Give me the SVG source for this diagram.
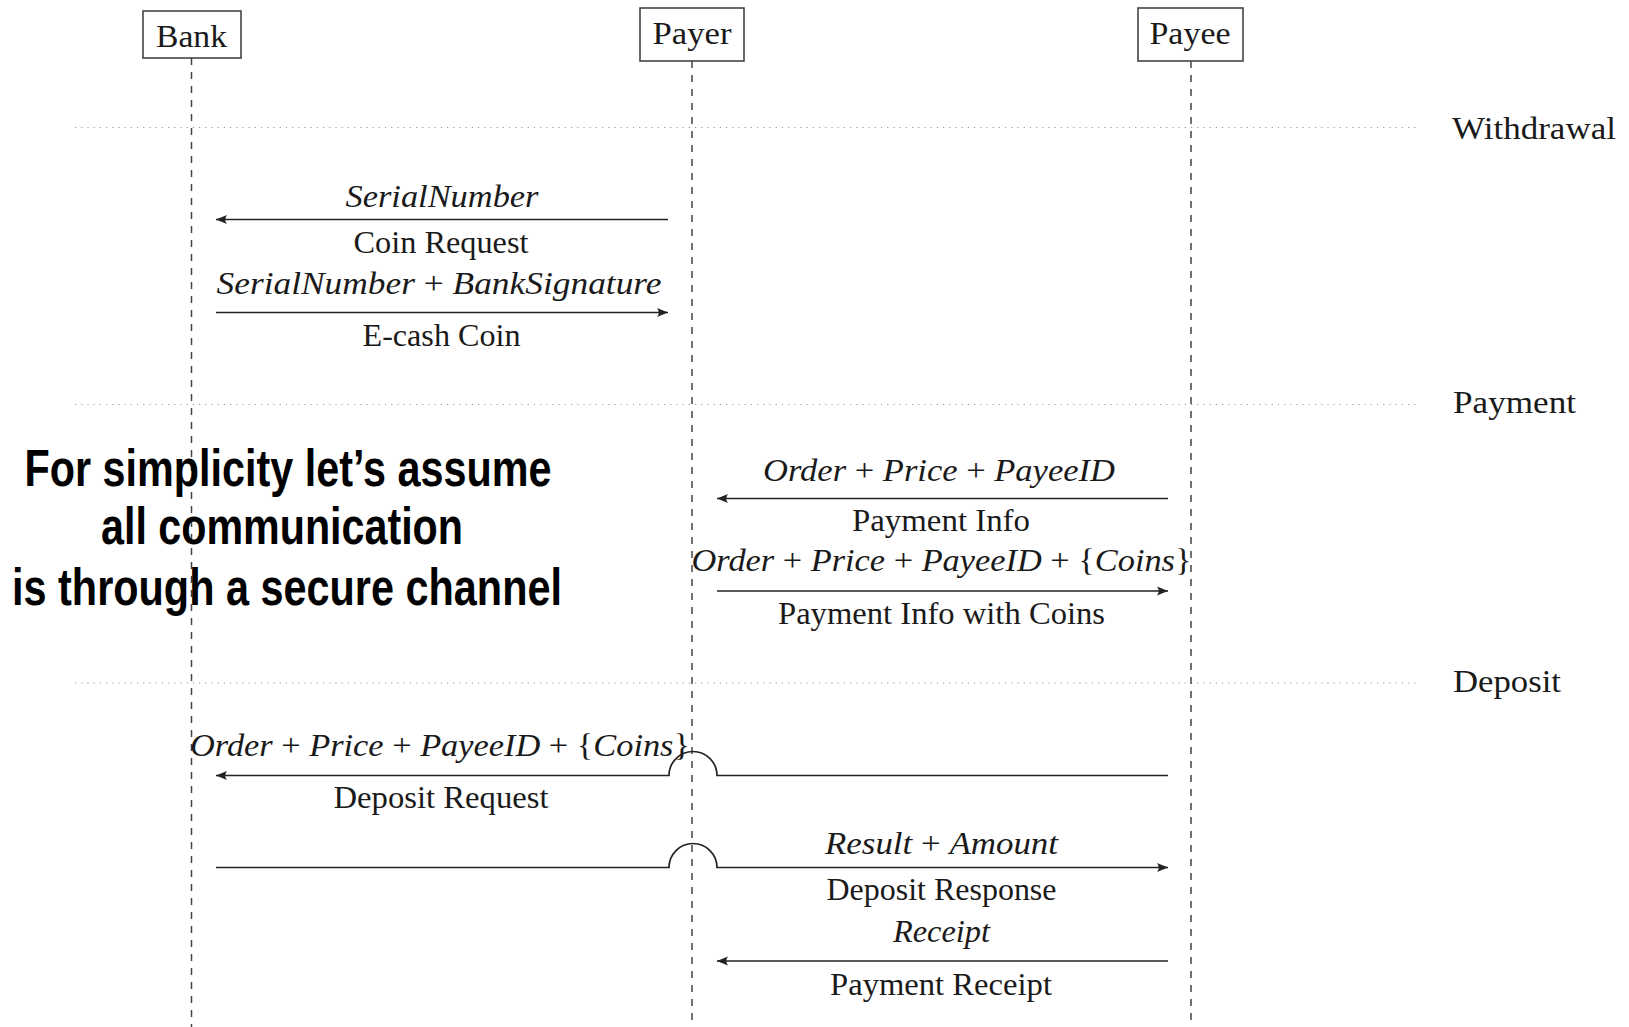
<svg xmlns="http://www.w3.org/2000/svg" width="1629" height="1027" viewBox="0 0 1629 1027">
  <style>
    .box { fill: #ffffff; stroke: #444444; stroke-width: 1.6; }
    .life { stroke: #444444; stroke-width: 1.5; stroke-dasharray: 7 7; fill: none; }
    .sep { stroke: #9a9a9a; stroke-width: 1.2; stroke-dasharray: 1.2 5; fill: none; }
    .msg { stroke: #222222; stroke-width: 1.7; fill: none; }
    .t { font-family: "Liberation Serif", "DejaVu Serif", serif; font-size: 31px; fill: #1a1a1a; }
    .c { text-anchor: middle; }
    .it { font-style: italic; }
    .note { font-family: "Liberation Sans Narrow", "Liberation Sans", Arial, sans-serif; font-weight: bold; font-size: 52px; fill: #000000; text-anchor: middle; }
  </style>
  <defs>
    <marker id="head" markerUnits="userSpaceOnUse" markerWidth="14" markerHeight="12" viewBox="-12 -6 14 12" refX="0" refY="0" orient="auto">
      <path d="M0,0 L-11,-4.5 Q-7.5,0 -11,4.5 Z" fill="#222222"/>
    </marker>
  </defs>

  <rect width="1629" height="1027" fill="#ffffff"/>

  <!-- phase separators -->
  <g id="phases">
    <line class="sep" x1="75" y1="127.5" x2="1418" y2="127.5"/>
    <line class="sep" x1="75" y1="404.5" x2="1418" y2="404.5"/>
    <line class="sep" x1="75" y1="683" x2="1418" y2="683"/>
    <text class="t" x="1452" y="139" textLength="164" lengthAdjust="spacingAndGlyphs">Withdrawal</text>
    <text class="t" x="1453" y="413" textLength="123" lengthAdjust="spacingAndGlyphs">Payment</text>
    <text class="t" x="1453" y="692" textLength="108" lengthAdjust="spacingAndGlyphs">Deposit</text>
  </g>

  <!-- lifelines -->
  <g id="lifelines">
    <line class="life" x1="191.5" y1="58" x2="191.5" y2="1027"/>
    <line class="life" x1="692" y1="61" x2="692" y2="1027"/>
    <line class="life" x1="1191" y1="61" x2="1191" y2="1027"/>
  </g>

  <!-- participants -->
  <g id="bank">
    <rect class="box" x="143" y="11" width="98" height="47"/>
    <text class="t c" x="191.5" y="46.5" textLength="71" lengthAdjust="spacingAndGlyphs">Bank</text>
  </g>
  <g id="payer">
    <rect class="box" x="640" y="8" width="104" height="53"/>
    <text class="t c" x="692" y="43.5" textLength="79" lengthAdjust="spacingAndGlyphs">Payer</text>
  </g>
  <g id="payee">
    <rect class="box" x="1138" y="8" width="105" height="53"/>
    <text class="t c" x="1190" y="43.5" textLength="81" lengthAdjust="spacingAndGlyphs">Payee</text>
  </g>

  <!-- messages -->
  <g id="connectors">
    <path class="msg" d="M668,219.5 H216" marker-end="url(#head)"/>
    <path class="msg" d="M216,312.5 H668" marker-end="url(#head)"/>
    <path class="msg" d="M1168,498.5 H717" marker-end="url(#head)"/>
    <path class="msg" d="M717,591 H1168" marker-end="url(#head)"/>
    <path class="msg" d="M1168,775.5 H717 A24,24 0 0 0 669,775.5 H216" marker-end="url(#head)"/>
    <path class="msg" d="M216,867.5 H669 A24,24 0 0 1 717,867.5 H1168" marker-end="url(#head)"/>
    <path class="msg" d="M1168,961 H717" marker-end="url(#head)"/>
  </g>

  <!-- message labels -->
  <g id="labels">
    <text class="t c it" x="442" y="207" textLength="193" lengthAdjust="spacingAndGlyphs">SerialNumber</text>
    <text class="t c" x="441" y="253" textLength="175" lengthAdjust="spacingAndGlyphs">Coin Request</text>

    <text class="t c" x="439" y="294" textLength="445" lengthAdjust="spacingAndGlyphs"><tspan class="it">SerialNumber</tspan> + <tspan class="it">BankSignature</tspan></text>
    <text class="t c" x="441.5" y="346" textLength="158" lengthAdjust="spacingAndGlyphs">E-cash Coin</text>

    <text class="t c" x="939" y="481" textLength="352" lengthAdjust="spacingAndGlyphs"><tspan class="it">Order</tspan> + <tspan class="it">Price</tspan> + <tspan class="it">PayeeID</tspan></text>
    <text class="t c" x="941" y="531" textLength="178" lengthAdjust="spacingAndGlyphs">Payment Info</text>

    <text class="t c" x="941.5" y="571" textLength="500" lengthAdjust="spacingAndGlyphs"><tspan class="it">Order</tspan> + <tspan class="it">Price</tspan> + <tspan class="it">PayeeID</tspan> + {<tspan class="it">Coins</tspan>}</text>
    <text class="t c" x="941.5" y="624" textLength="327" lengthAdjust="spacingAndGlyphs">Payment Info with Coins</text>

    <text class="t c" x="440" y="756" textLength="500" lengthAdjust="spacingAndGlyphs"><tspan class="it">Order</tspan> + <tspan class="it">Price</tspan> + <tspan class="it">PayeeID</tspan> + {<tspan class="it">Coins</tspan>}</text>
    <text class="t c" x="441" y="808" textLength="215" lengthAdjust="spacingAndGlyphs">Deposit Request</text>

    <text class="t c" x="941.5" y="854" textLength="233" lengthAdjust="spacingAndGlyphs"><tspan class="it">Result</tspan> + <tspan class="it">Amount</tspan></text>
    <text class="t c" x="941.5" y="900" textLength="230" lengthAdjust="spacingAndGlyphs">Deposit Response</text>

    <text class="t c it" x="941.5" y="942" textLength="97" lengthAdjust="spacingAndGlyphs">Receipt</text>
    <text class="t c" x="941" y="995" textLength="222" lengthAdjust="spacingAndGlyphs">Payment Receipt</text>
  </g>

  <!-- overlay note -->
  <g id="note">
    <text class="note" x="288" y="486" textLength="527" lengthAdjust="spacingAndGlyphs">For simplicity let’s assume</text>
    <text class="note" x="282" y="544" textLength="362" lengthAdjust="spacingAndGlyphs">all communication</text>
    <text class="note" x="287" y="605" textLength="550" lengthAdjust="spacingAndGlyphs">is through a secure channel</text>
  </g>
</svg>
